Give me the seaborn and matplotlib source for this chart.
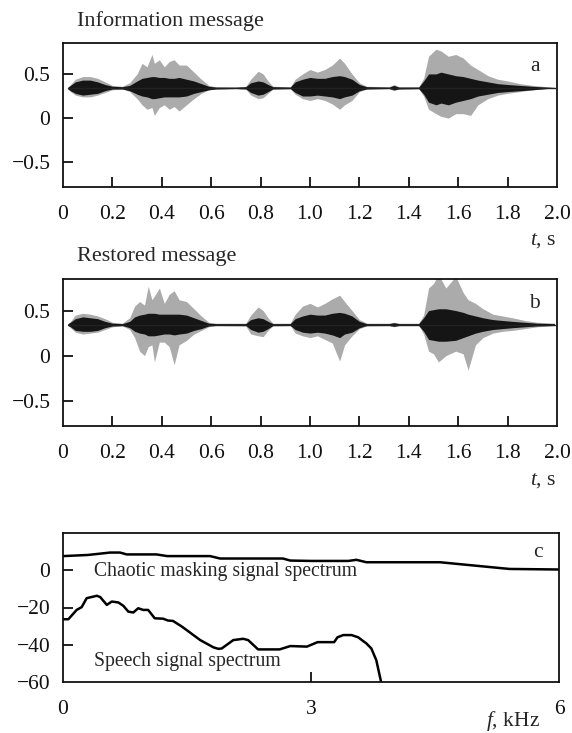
import numpy as np
import pandas as pd
import matplotlib
matplotlib.use("Agg")
import matplotlib.pyplot as plt
import seaborn as sns

# ---------------- data ----------------
BASE_A = 0.34
T_A = [0.02, 0.03, 0.05, 0.08, 0.11, 0.14, 0.17, 0.20, 0.24, 0.27, 0.30, 0.32, 0.34, 0.36, 0.37,
       0.39, 0.41, 0.43, 0.45, 0.47, 0.50, 0.53, 0.56, 0.59, 0.62, 0.70, 0.74, 0.76, 0.79, 0.81,
       0.83, 0.85, 0.92, 0.94, 0.97, 1.00, 1.03, 1.06, 1.09, 1.12, 1.14, 1.17, 1.20, 1.23, 1.32,
       1.34, 1.36, 1.44, 1.46, 1.48, 1.51, 1.53, 1.56, 1.59, 1.62, 1.65, 1.68, 1.72, 1.76, 1.80,
       1.85, 1.90, 1.96, 1.99]
OUT_TOP_A = [0.35, 0.38, 0.44, 0.47, 0.47, 0.45, 0.41, 0.37, 0.36, 0.40, 0.50, 0.62, 0.58, 0.72, 0.62,
             0.66, 0.58, 0.64, 0.66, 0.60, 0.60, 0.52, 0.44, 0.37, 0.355, 0.35, 0.36, 0.44, 0.53, 0.50,
             0.42, 0.36, 0.355, 0.44, 0.50, 0.55, 0.52, 0.55, 0.60, 0.68, 0.62, 0.50, 0.40, 0.36, 0.355,
             0.38, 0.355, 0.355, 0.45, 0.70, 0.78, 0.76, 0.70, 0.72, 0.68, 0.60, 0.55, 0.48, 0.44, 0.42,
             0.39, 0.37, 0.355, 0.35]
OUT_BOT_A = [0.33, 0.30, 0.26, 0.24, 0.24, 0.26, 0.29, 0.32, 0.33, 0.30, 0.22, 0.15, 0.10, 0.12, 0.03,
             0.12, 0.15, 0.10, 0.13, 0.08, 0.15, 0.22, 0.28, 0.32, 0.33, 0.335, 0.33, 0.26, 0.22, 0.23,
             0.28, 0.33, 0.33, 0.27, 0.22, 0.20, 0.22, 0.20, 0.16, 0.10, 0.15, 0.20, 0.30, 0.33, 0.335,
             0.31, 0.33, 0.33, 0.25, 0.10, 0.05, 0.02, 0.00, 0.05, 0.05, 0.03, 0.15, 0.22, 0.26, 0.28,
             0.30, 0.32, 0.335, 0.335]
CORE_TOP_A = [0.35, 0.37, 0.41, 0.43, 0.43, 0.41, 0.38, 0.36, 0.355, 0.37, 0.42, 0.45, 0.46, 0.47, 0.47,
              0.46, 0.46, 0.45, 0.45, 0.46, 0.44, 0.42, 0.39, 0.36, 0.35, 0.35, 0.355, 0.40, 0.42, 0.41,
              0.38, 0.355, 0.35, 0.41, 0.44, 0.46, 0.45, 0.45, 0.47, 0.48, 0.47, 0.44, 0.38, 0.355, 0.35,
              0.37, 0.35, 0.35, 0.42, 0.50, 0.50, 0.52, 0.50, 0.48, 0.47, 0.45, 0.43, 0.41, 0.39, 0.38,
              0.37, 0.36, 0.35, 0.345]
CORE_BOT_A = [0.33, 0.31, 0.28, 0.26, 0.27, 0.28, 0.31, 0.33, 0.33, 0.31, 0.27, 0.25, 0.24, 0.22, 0.22,
              0.23, 0.24, 0.24, 0.24, 0.24, 0.25, 0.28, 0.30, 0.32, 0.33, 0.335, 0.33, 0.29, 0.26, 0.27,
              0.30, 0.33, 0.335, 0.29, 0.25, 0.25, 0.26, 0.25, 0.24, 0.22, 0.24, 0.26, 0.31, 0.33, 0.335,
              0.32, 0.33, 0.335, 0.27, 0.18, 0.15, 0.17, 0.15, 0.18, 0.20, 0.22, 0.25, 0.27, 0.29, 0.30,
              0.31, 0.32, 0.335, 0.335]

BASE_B = 0.345
T_B = [0.02, 0.03, 0.05, 0.08, 0.11, 0.14, 0.17, 0.20, 0.24, 0.27, 0.29, 0.31, 0.33, 0.345, 0.36,
       0.37, 0.39, 0.41, 0.43, 0.45, 0.47, 0.50, 0.53, 0.56, 0.59, 0.62, 0.74, 0.76, 0.79, 0.81,
       0.83, 0.85, 0.92, 0.94, 0.97, 1.00, 1.03, 1.06, 1.09, 1.12, 1.14, 1.17, 1.20, 1.23, 1.32,
       1.34, 1.36, 1.44, 1.46, 1.48, 1.50, 1.52, 1.55, 1.59, 1.62, 1.64, 1.67, 1.70, 1.74, 1.78,
       1.82, 1.87, 1.92, 1.99]
OUT_TOP_B = [0.355, 0.38, 0.45, 0.47, 0.46, 0.44, 0.41, 0.37, 0.36, 0.42, 0.55, 0.60, 0.56, 0.77, 0.62,
             0.66, 0.75, 0.58, 0.68, 0.72, 0.62, 0.60, 0.52, 0.44, 0.37, 0.36, 0.36, 0.45, 0.54, 0.50,
             0.42, 0.36, 0.36, 0.46, 0.55, 0.58, 0.54, 0.58, 0.63, 0.67, 0.60, 0.50, 0.40, 0.36, 0.36,
             0.37, 0.36, 0.36, 0.45, 0.75, 0.80, 0.90, 0.75, 0.88, 0.70, 0.62, 0.58, 0.52, 0.46, 0.44,
             0.42, 0.39, 0.37, 0.36]
OUT_BOT_B = [0.335, 0.31, 0.26, 0.24, 0.25, 0.26, 0.29, 0.32, 0.33, 0.29, 0.20, 0.05, 0.00, 0.10, 0.12,
             -0.07, 0.15, 0.15, 0.10, -0.10, 0.12, 0.17, 0.24, 0.28, 0.32, 0.335, 0.33, 0.24, 0.22, 0.21,
             0.28, 0.33, 0.335, 0.25, 0.22, 0.20, 0.22, 0.18, 0.14, -0.06, 0.12, 0.22, 0.30, 0.33, 0.335,
             0.32, 0.335, 0.335, 0.24, 0.05, 0.02, -0.07, 0.00, 0.05, 0.02, -0.16, 0.12, 0.20, 0.25, 0.27,
             0.28, 0.30, 0.32, 0.335]
CORE_TOP_B = [0.355, 0.37, 0.41, 0.43, 0.42, 0.41, 0.38, 0.36, 0.355, 0.38, 0.43, 0.45, 0.46, 0.47, 0.47,
              0.47, 0.46, 0.46, 0.46, 0.46, 0.46, 0.45, 0.42, 0.39, 0.36, 0.355, 0.355, 0.40, 0.42, 0.41,
              0.38, 0.355, 0.355, 0.41, 0.44, 0.46, 0.45, 0.45, 0.47, 0.48, 0.47, 0.44, 0.38, 0.355, 0.355,
              0.365, 0.355, 0.355, 0.42, 0.50, 0.51, 0.52, 0.52, 0.50, 0.48, 0.46, 0.44, 0.42, 0.40, 0.39,
              0.38, 0.37, 0.36, 0.355]
CORE_BOT_B = [0.335, 0.32, 0.28, 0.27, 0.27, 0.28, 0.31, 0.33, 0.335, 0.31, 0.27, 0.25, 0.24, 0.22, 0.22,
              0.22, 0.23, 0.24, 0.24, 0.23, 0.24, 0.25, 0.28, 0.30, 0.33, 0.335, 0.335, 0.29, 0.26, 0.27,
              0.30, 0.335, 0.335, 0.29, 0.26, 0.25, 0.26, 0.25, 0.23, 0.20, 0.24, 0.26, 0.31, 0.335, 0.335,
              0.325, 0.335, 0.335, 0.27, 0.18, 0.17, 0.16, 0.16, 0.17, 0.20, 0.22, 0.25, 0.27, 0.29, 0.30,
              0.31, 0.32, 0.33, 0.335]

X_TICKS_T = [0.0, 0.2, 0.4, 0.6, 0.8, 1.0, 1.2, 1.4, 1.6, 1.8, 2.0]
X_TICK_LABELS_T = ["0", "0.2", "0.4", "0.6", "0.8", "1.0", "1.2", "1.4", "1.6", "1.8", "2.0"]
Y_TICKS_AB = [0.5, 0.0, -0.5]
Y_TICK_LABELS_AB = ["0.5", "0", "\u22120.5"]

F_MASK = [0.0, 0.3, 0.57, 0.69, 0.77, 1.13, 1.26, 1.78, 1.90, 2.66, 2.75, 3.0, 3.45, 3.55, 3.67,
          4.56, 5.40, 6.0]
S_MASK = [7.6, 8.2, 9.5, 9.5, 8.5, 8.5, 7.6, 7.6, 6.3, 6.3, 5.2, 5.0, 5.0, 5.6, 4.3,
          4.3, 0.7, 0.4]
F_SPEECH = [0.0, 0.065, 0.165, 0.226, 0.286, 0.41, 0.45, 0.53, 0.59, 0.67, 0.73, 0.79, 0.85, 0.91,
            0.97, 1.03, 1.11, 1.21, 1.27, 1.33, 1.44, 1.66, 1.82, 1.88, 1.92, 2.06, 2.18, 2.24, 2.36,
            2.62, 2.75, 2.95, 3.08, 3.28, 3.32, 3.39, 3.49, 3.57, 3.67, 3.73, 3.79, 3.85]
S_SPEECH = [-26.3, -26.3, -21.3, -19.8, -15.0, -13.7, -14.4, -18.6, -16.8, -17.3, -19.1, -22.2, -22.7,
            -20.4, -21.3, -21.3, -25.8, -26.0, -27.0, -27.2, -30.3, -37.5, -41.4, -42.2, -42.0, -37.5,
            -36.8, -37.5, -42.5, -42.5, -40.7, -41.0, -38.6, -38.6, -36.0, -34.8, -34.8, -36.0, -39.3,
            -42.0, -48.3, -60.4]
X_TICKS_F = [0, 3, 6]
Y_TICKS_C = [0, -20, -40, -60]
Y_TICK_LABELS_C = ["0", "\u221220", "\u221240", "\u221260"]

# ---------------- style ----------------
sns.set_theme(style="ticks")
plt.rcParams["font.family"] = ["Liberation Serif", "DejaVu Serif"]
plt.rcParams["mathtext.fontset"] = "custom"
plt.rcParams["mathtext.rm"] = "Liberation Serif"
plt.rcParams["mathtext.it"] = "Liberation Serif:italic"
FS_TICK = 15.5
FS_TITLE = 16
FS_LAB = 14.2

W, H = 572, 733
fig = plt.figure(figsize=(W / 100, H / 100), dpi=100)
fig.patch.set_facecolor("white")


def fr(l, t, r, b):
    return [l / W, 1 - b / H, (r - l) / W, (b - t) / H]


def style_axes(ax):
    for s in ax.spines.values():
        s.set_linewidth(1.3)
        s.set_color("#111111")
    ax.set_facecolor("white")
    ax.tick_params(axis="both", direction="in", length=7, width=1.3, colors="#111111",
                   labelsize=FS_TICK, labelcolor="#111111")
    ax.tick_params(axis="x", pad=13)
    ax.tick_params(axis="y", pad=9)
    ax.set_xlabel("")
    ax.set_ylabel("")


def wave_panel(ax, t, ot, ob, ct, cb, base, letter, title):
    ax.fill_between(t, ob, ot, color="#9c9c9c", alpha=0.85, lw=0)
    ax.fill_between(t, cb, ct, color="#151515", lw=0)
    sns.lineplot(x=[t[0], t[-1]], y=[base, base], ax=ax, color="#222222", lw=1.0)
    ax.set_xlim(0, 2.0)
    ax.set_ylim(-0.78, 0.85)
    ax.set_xticks(X_TICKS_T)
    ax.set_xticklabels(X_TICK_LABELS_T)
    ax.set_yticks(Y_TICKS_AB)
    ax.set_yticklabels(Y_TICK_LABELS_AB)
    style_axes(ax)
    xt = ax.xaxis.get_major_ticks()
    xt[0].tick1line.set_visible(False)
    xt[-1].tick1line.set_visible(False)
    ax.text(0.955, 0.835, letter, transform=ax.transAxes, fontsize=FS_TICK, ha="center", va="center")
    ax.text(0.028, 1.155, title, transform=ax.transAxes, fontsize=FS_TITLE, ha="left", va="center")


ax_a = fig.add_axes(fr(63, 43, 557, 187))
wave_panel(ax_a, T_A, OUT_TOP_A, OUT_BOT_A, CORE_TOP_A, CORE_BOT_A, BASE_A, "a", "Information message")
fig.text(543 / W, 1 - 240 / H, "$t$, s", fontsize=FS_TICK, ha="center", va="center")

ax_b = fig.add_axes(fr(63, 279, 557, 426))
wave_panel(ax_b, T_B, OUT_TOP_B, OUT_BOT_B, CORE_TOP_B, CORE_BOT_B, BASE_B, "b", "Restored message")
fig.text(543 / W, 1 - 480 / H, "$t$, s", fontsize=FS_TICK, ha="center", va="center")

ax_c = fig.add_axes(fr(63, 533, 559, 682))
df_mask = pd.DataFrame({"f": F_MASK, "S": S_MASK})
df_sp = pd.DataFrame({"f": F_SPEECH, "S": S_SPEECH})
sns.lineplot(data=df_mask, x="f", y="S", ax=ax_c, color="black", lw=1.8, sort=False)
sns.lineplot(data=df_sp, x="f", y="S", ax=ax_c, color="black", lw=1.8, sort=False)
ax_c.set_xlim(0, 6)
ax_c.set_ylim(-60, 20)
ax_c.set_xticks(X_TICKS_F)
ax_c.set_xticklabels([str(v) for v in X_TICKS_F])
ax_c.set_yticks(Y_TICKS_C)
ax_c.set_yticklabels(Y_TICK_LABELS_C)
style_axes(ax_c)
xt = ax_c.xaxis.get_major_ticks()
xt[0].tick1line.set_visible(False)
xt[-1].tick1line.set_visible(False)
ax_c.yaxis.get_major_ticks()[-1].tick1line.set_visible(False)
ax_c.text(0.958, 0.87, "c", transform=ax_c.transAxes, fontsize=FS_TICK, ha="center", va="center")
ax_c.text(0.063, 0.74, "Chaotic masking signal spectrum", transform=ax_c.transAxes,
          fontsize=FS_LAB, ha="left", va="center")
ax_c.text(0.063, 0.135, "Speech signal spectrum", transform=ax_c.transAxes,
          fontsize=FS_LAB, ha="left", va="center")
fig.text(513 / W, 1 - 721 / H, "$f$, kHz", fontsize=FS_TICK, ha="center", va="center")

fig.savefig("out.png", dpi=100, facecolor="white")
